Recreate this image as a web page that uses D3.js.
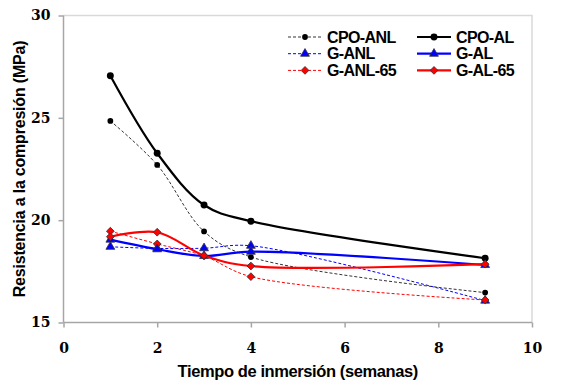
<!DOCTYPE html>
<html>
<head>
<meta charset="utf-8">
<script src="https://cdn.jsdelivr.net/npm/d3@7"></script>
<style>
  body { margin: 0; background: #fff; }
  text { font-family: "Liberation Sans", Arial, sans-serif; font-weight: bold; }
</style>
</head>
<body>
<div class="chart"></div>
<script>
//Data
var weeks = [1, 2, 3, 4, 9];
var cpoAnl = [24.85, 22.70, 19.45, 18.20, 16.46];
var cpoAl = [27.06, 23.27, 20.74, 19.95, 18.14];
var gAnl = [18.70, 18.62, 18.63, 18.75, 16.07];
var gAl = [19.05, 18.58, 18.25, 18.46, 17.81];
var gAnl65 = [19.46, 18.84, 18.25, 17.24, 16.10];
var gAl65 = [19.19, 19.41, 18.27, 17.76, 17.85];

var xTicks = [0, 2, 4, 6, 8, 10];
var yTicks = [15, 20, 25, 30];

var series = [
    { name: "CPO-ANL", values: cpoAnl, color: "#000", dashed: true, symbol: "circle" },
    { name: "G-ANL", values: gAnl, color: "#0000ff", dashed: true, symbol: "triangle" },
    { name: "G-ANL-65", values: gAnl65, color: "#ff0000", dashed: true, symbol: "diamond" },
    { name: "CPO-AL", values: cpoAl, color: "#000", dashed: false, symbol: "circle" },
    { name: "G-AL", values: gAl, color: "#0000ff", dashed: false, symbol: "triangle" },
    { name: "G-AL-65", values: gAl65, color: "#ff0000", dashed: false, symbol: "diamond" }
];

//Width and height
var w = 565;
var h = 390;
var plotLeft = 63.5, plotRight = 532, plotTop = 15.5, plotBottom = 322.5;

var svg = d3.select(".chart")
    .append("svg")
    .attr("width", w)
    .attr("height", h);

var xScale = d3.scaleLinear().domain([0, 10]).range([plotLeft, plotRight]);
var yScale = d3.scaleLinear().domain([15, 30]).range([plotBottom, plotTop]);

//Plot frame (top and right light)
svg.append("path")
    .attr("d", "M" + plotLeft + "," + plotTop + "H" + plotRight + "V" + plotBottom)
    .attr("fill", "none")
    .attr("stroke", "#d9d9d9")
    .attr("stroke-width", 1.5);

//Axes
var xAxis = d3.axisBottom(xScale).tickValues(xTicks).tickSize(5).tickPadding(16);
var gx = svg.append("g")
    .attr("transform", "translate(0," + plotBottom + ")")
    .call(xAxis);
var yAxis = d3.axisLeft(yScale).tickValues(yTicks).tickSize(5).tickPadding(8);
var gy = svg.append("g")
    .attr("transform", "translate(" + plotLeft + ",0)")
    .call(yAxis);

[gx, gy].forEach(g => {
    g.select(".domain").attr("stroke", "#a6a6a6").attr("stroke-width", 1.5);
    g.selectAll(".tick line").attr("stroke", "#a6a6a6").attr("stroke-width", 1.5);
    g.selectAll(".tick text")
        .attr("fill", "#000")
        .style("font-size", "14px")
        .style("font-family", "'DejaVu Serif', serif")
        .style("font-weight", "bold");
});
gy.select(".domain").attr("d", "M0," + plotBottom + "V" + plotTop);
gx.select(".domain").attr("d", "M" + plotLeft + ",0H" + plotRight);

//Axis titles
svg.append("text")
    .attr("x", (plotLeft + plotRight) / 2)
    .attr("y", 377)
    .attr("text-anchor", "middle")
    .style("font-size", "16.5px")
    .style("letter-spacing", "-0.4px")
    .text("Tiempo de inmersión (semanas)");

svg.append("text")
    .attr("transform", "translate(25," + ((plotTop + plotBottom) / 2) + ") rotate(-90)")
    .attr("text-anchor", "middle")
    .style("font-size", "16px")
    .style("letter-spacing", "-0.2px")
    .text("Resistencia a la compresión (MPa)");

//Symbols
function symbolPath(type, big) {
    if (type === "circle") return d3.symbol(d3.symbolCircle, big ? 38 : 26)();
    if (type === "triangle") return d3.symbol(d3.symbolTriangle, 34)();
    return d3.symbol(d3.symbolSquare, 30)();
}

var line = d3.line()
    .x(d => xScale(d.x))
    .y(d => yScale(d.y))
    .curve(d3.curveCatmullRom.alpha(0.5));

series.forEach(s => {
    var pts = weeks.map((x, i) => ({ x: x, y: s.values[i] }));
    svg.append("path")
        .datum(pts)
        .attr("d", line)
        .attr("fill", "none")
        .attr("stroke", s.color)
        .attr("stroke-opacity", s.dashed && s.color === "#000" ? 0.8 : 1)
        .attr("stroke-width", s.dashed ? 1 : 2.2)
        .attr("stroke-dasharray", s.dashed ? "3,2" : null);
    svg.selectAll(null)
        .data(pts)
        .enter()
        .append("path")
        .attr("transform", d => "translate(" + xScale(d.x) + "," + yScale(d.y) + ")" + (s.symbol === "diamond" ? " rotate(45)" : ""))
        .attr("d", symbolPath(s.symbol, !s.dashed))
        .attr("fill", s.color)
        .attr("stroke", s.symbol === "circle" ? "none" : "#333")
        .attr("stroke-width", 0.8);
});

//Legend
var legend = svg.selectAll(".legend")
    .data(series)
    .enter()
    .append("g")
    .attr("class", "legend")
    .attr("transform", (d, i) => "translate(" + (i < 3 ? 288 : 417) + "," + (37 + (i % 3) * 16.7) + ")");

legend.append("line")
    .attr("x1", 0)
    .attr("x2", 34)
    .attr("stroke", d => d.color)
    .attr("stroke-opacity", d => d.dashed && d.color === "#000" ? 0.8 : 1)
    .attr("stroke-width", d => d.dashed ? 1 : 2.2)
    .attr("stroke-dasharray", d => d.dashed ? "3,2" : null);

legend.append("path")
    .attr("transform", d => "translate(17,0)" + (d.symbol === "diamond" ? " rotate(45)" : ""))
    .attr("d", d => symbolPath(d.symbol, !d.dashed))
    .attr("fill", d => d.color)
    .attr("stroke", d => d.symbol === "circle" ? "none" : "#333")
    .attr("stroke-width", 0.8);

legend.append("text")
    .attr("x", 39)
    .attr("dy", "0.36em")
    .style("font-size", "16px")
    .style("letter-spacing", "-0.6px")
    .text(d => d.name);
</script>
</body>
</html>
